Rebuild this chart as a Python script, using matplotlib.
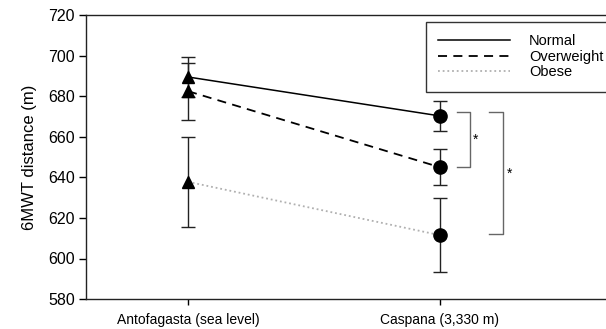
import matplotlib
matplotlib.use('Agg')
import matplotlib.pyplot as plt
from matplotlib.lines import Line2D

plt.rcParams['font.family'] = ['Liberation Sans', 'DejaVu Sans']

# data
sites = ['Antofagasta (sea level)', 'Caspana (3,330 m)']
groups = ['Normal', 'Overweight', 'Obese']
means = {
    'Normal': [689.5, 670.3],
    'Overweight': [682.5, 645.0],
    'Obese': [637.8, 611.5],
}
errs = {
    'Normal': [10.0, 7.2],
    'Overweight': [14.0, 9.0],
    'Obese': [22.3, 18.3],
}
# significance brackets: (top, bottom)
brackets = [(672.0, 645.0), (672.0, 612.0)]

styles = {
    'Normal': dict(color='black', ls='-', lw=1.1),
    'Overweight': dict(color='black', ls=(0, (5, 3.5)), lw=1.3),
    'Obese': dict(color='#b0b0b0', ls=(0, (1, 1.6)), lw=1.3),
}

fig = plt.figure(figsize=(6.06, 3.29), dpi=100)
ax = fig.add_axes([0.142, 0.091, 0.875, 0.863])

xs = [1, 2]
for g in groups:
    ax.plot(xs, means[g], **styles[g], zorder=2)
    ax.errorbar(xs, means[g], yerr=errs[g], fmt='none', ecolor='#222222',
                elinewidth=1.0, capsize=5, capthick=1.0, zorder=3)
    ax.plot(xs[0], means[g][0], marker='^', ms=8.5, color='black', ls='none', zorder=4)
    ax.plot(xs[1], means[g][1], marker='o', ms=9.5, color='black', ls='none', zorder=4)

# brackets
bx = [(2.066, 2.121, 2.143), (2.194, 2.249, 2.278)]
for (top, bot), (x0, x1, xs_) in zip(brackets, bx):
    ax.plot([x0, x1, x1, x0], [top, top, bot, bot], color='#666666', lw=1.0, zorder=2)
    ax.text(xs_, (top + bot) / 2, '*', fontsize=10, ha='center', va='center')

ax.set_xlim(0.595, 2.7)
ax.set_ylim(580, 720)
ax.set_xticks(xs)
ax.set_xticklabels(sites, fontsize=10)
ax.set_yticks(range(580, 721, 20))
ax.tick_params(axis='y', labelsize=11.5, direction='out', length=5, width=1, pad=3)
ax.tick_params(axis='x', direction='out', length=4, width=1, pad=6)
ax.set_ylabel('6MWT distance (m)', fontsize=12, labelpad=8)
for sp in ax.spines.values():
    sp.set_linewidth(1.0)
    sp.set_color('#222222')

handles = [Line2D([], [], **styles[g]) for g in groups]
leg = ax.legend(handles, groups, loc='upper left', bbox_to_anchor=(426 / 606, 1 - 22 / 329),
                bbox_transform=fig.transFigure, fontsize=10.5, handlelength=4.9,
                handletextpad=1.3, labelspacing=0.1, borderpad=0.85,
                fancybox=False, edgecolor='#333333', framealpha=1, borderaxespad=0)
leg.get_frame().set_linewidth(1.0)

fig.savefig('out.png', dpi=100)
